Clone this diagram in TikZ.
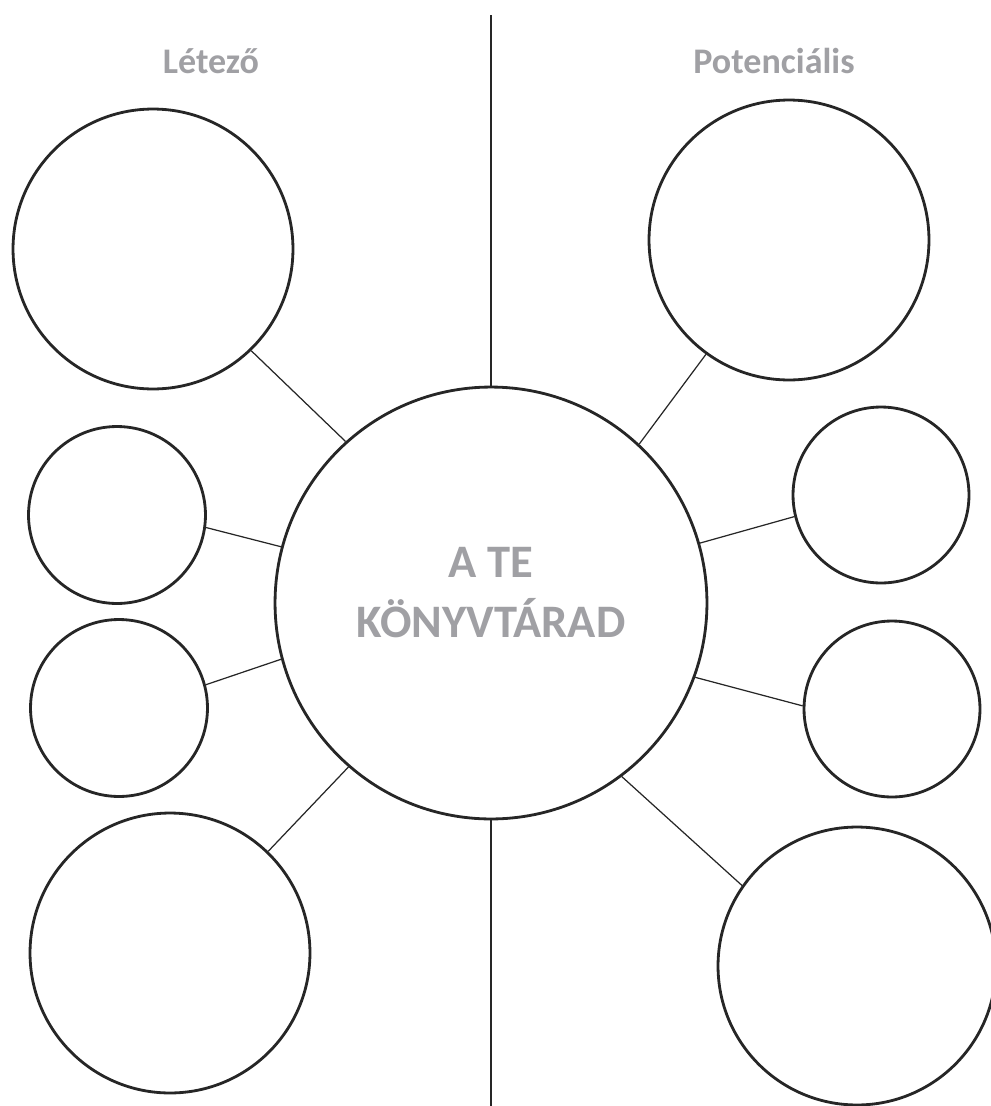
\documentclass[tikz,border=0pt]{standalone}
\usepackage{fontspec}
\setmainfont{Carlito}
\usepackage{xcolor}
\usetikzlibrary{calc}

\definecolor{labelgray}{RGB}{160,160,164}

\begin{document}
\begin{tikzpicture}[x=0.02cm, y=-0.02cm,
    bubble/.style={circle, draw=black!85, line width=1.6pt, inner sep=0pt},
    link/.style={black!85, line width=0.7pt},
    divider/.style={black!85, line width=1.1pt},
    heading/.style={text=labelgray, anchor=base, font=\bfseries\fontsize{20.5}{25}\selectfont}]
  \useasboundingbox (0,0) rectangle (991,1106);

  % headings
  \node[heading] (existing) at (211,73) {Létező};
  \node[heading] (potential) at (774,73) {Potenciális};

  % centre
  \node[bubble, minimum size=8.64cm] (core) at (491,603) {};
  \node[text=labelgray, align=center, anchor=base,
        font=\bfseries\fontsize{26.5}{34}\selectfont] (title) at (491,637) {A TE\\KÖNYVTÁRAD};

  % left side
  \node[bubble, minimum size=5.6cm] (ltop) at (153,249) {};
  \node[bubble, minimum size=3.54cm] (lmid1) at (117,515) {};
  \node[bubble, minimum size=3.54cm] (lmid2) at (119,708) {};
  \node[bubble, minimum size=5.6cm] (lbot) at (170,953) {};

  % right side
  \node[bubble, minimum size=5.6cm] (rtop) at (789,240) {};
  \node[bubble, minimum size=3.52cm] (rmid1) at (881,495) {};
  \node[bubble, minimum size=3.52cm] (rmid2) at (892,709) {};
  \node[bubble, minimum size=5.56cm] (rbot) at (857,966) {};

  % divider
  \coordinate (divtop) at (491,15);
  \coordinate (divbot) at (491,1106);
  \draw[divider] (divtop) -- (core.north);
  \draw[divider] (core.south) -- (divbot);

  % links: outer anchor / core anchor
  \foreach \n/\a/\b in {ltop/-46.7/132.2, lmid1/-8.4/165.4, lmid2/15.4/195.4, lbot/46.1/229.9,
                        rtop/234.4/47.8, rmid1/194.8/16.3, rmid2/178.7/-20.5, rbot/145.5/-53.4}
    \draw[link] (\n.\a) -- (core.\b);
\end{tikzpicture}
\end{document}
